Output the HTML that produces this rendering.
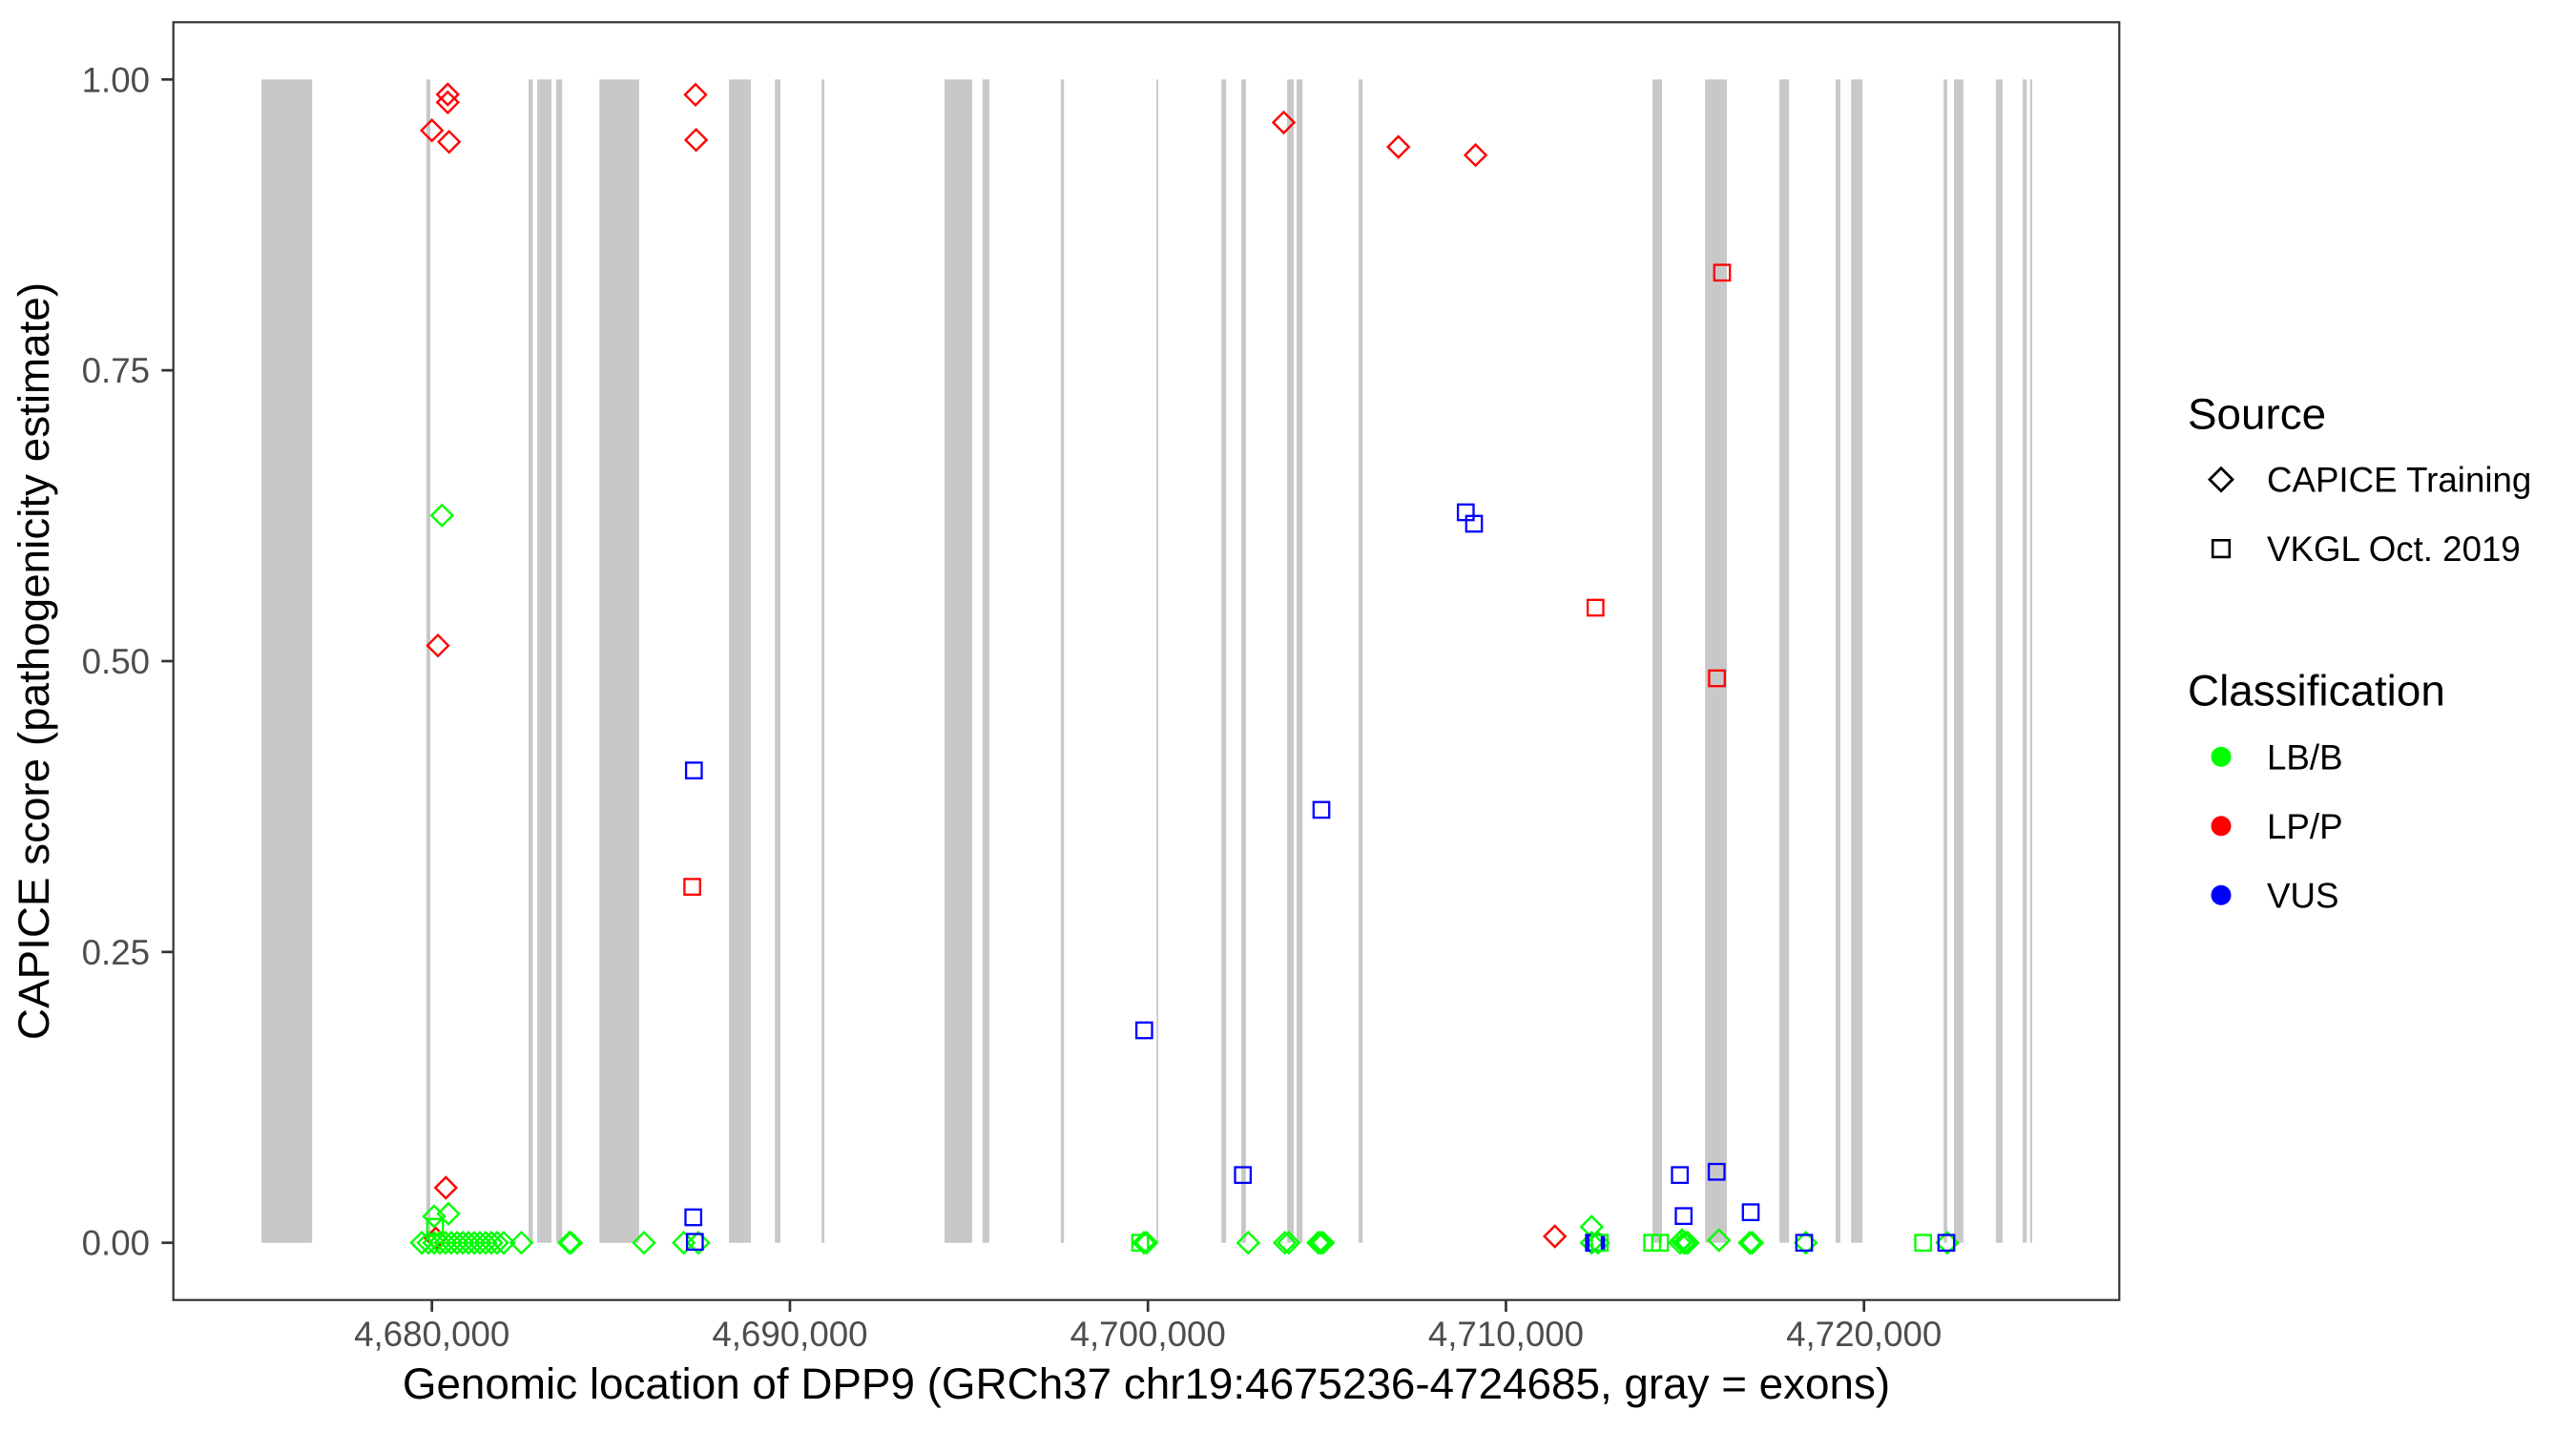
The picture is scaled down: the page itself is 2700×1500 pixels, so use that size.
<!DOCTYPE html>
<html><head><meta charset="utf-8"><style>
html,body{margin:0;padding:0;background:#fff;}
svg{display:block;}
text{font-family:"Liberation Sans",Arial,sans-serif;}
</style></head><body>
<svg width="2700" height="1500" viewBox="0 0 2700 1500" xmlns="http://www.w3.org/2000/svg">
<rect x="0" y="0" width="2700" height="1500" fill="#fff"/>
<defs>
<path id="dm" d="M0,-11 L11,0 L0,11 L-11,0 Z" fill="none" stroke-width="2.4"/>
<rect id="sq" x="-8.2" y="-8.2" width="16.4" height="16.4" fill="none" stroke-width="2.3"/>
</defs>
<g fill="#c8c8c8">
<rect x="274.1" y="83.3" width="53.1" height="1219.4"/>
<rect x="447.0" y="83.3" width="4.1" height="1219.4"/>
<rect x="554.0" y="83.3" width="4.5" height="1219.4"/>
<rect x="563.1" y="83.3" width="14.9" height="1219.4"/>
<rect x="583.0" y="83.3" width="6.2" height="1219.4"/>
<rect x="628.2" y="83.3" width="41.8" height="1219.4"/>
<rect x="764.1" y="83.3" width="22.9" height="1219.4"/>
<rect x="812.2" y="83.3" width="5.8" height="1219.4"/>
<rect x="861.2" y="83.3" width="2.9" height="1219.4"/>
<rect x="990.0" y="83.3" width="29.0" height="1219.4"/>
<rect x="1029.8" y="83.3" width="7.1" height="1219.4"/>
<rect x="1111.9" y="83.3" width="3.3" height="1219.4"/>
<rect x="1212.2" y="83.3" width="1.8" height="1219.4"/>
<rect x="1280.2" y="83.3" width="5.0" height="1219.4"/>
<rect x="1301.0" y="83.3" width="4.9" height="1219.4"/>
<rect x="1349.1" y="83.3" width="7.0" height="1219.4"/>
<rect x="1359.0" y="83.3" width="6.2" height="1219.4"/>
<rect x="1424.1" y="83.3" width="4.2" height="1219.4"/>
<rect x="1732.1" y="83.3" width="9.9" height="1219.4"/>
<rect x="1787.2" y="83.3" width="22.8" height="1219.4"/>
<rect x="1865.1" y="83.3" width="10.0" height="1219.4"/>
<rect x="1924.0" y="83.3" width="5.0" height="1219.4"/>
<rect x="1940.2" y="83.3" width="12.0" height="1219.4"/>
<rect x="2037.2" y="83.3" width="3.7" height="1219.4"/>
<rect x="2048.0" y="83.3" width="9.9" height="1219.4"/>
<rect x="2091.9" y="83.3" width="7.1" height="1219.4"/>
<rect x="2120.1" y="83.3" width="4.2" height="1219.4"/>
<rect x="2128.0" y="83.3" width="2.1" height="1219.4"/>
</g>
<g stroke="#ff0000">
<use href="#dm" x="469.3" y="99"/>
<use href="#dm" x="469.3" y="107.3"/>
<use href="#dm" x="452.7" y="136.7"/>
<use href="#dm" x="470.7" y="148.7"/>
<use href="#dm" x="459" y="676.7"/>
<use href="#dm" x="467.3" y="1245"/>
<use href="#dm" x="456.7" y="1298"/>
<use href="#dm" x="729" y="99.3"/>
<use href="#dm" x="729.6" y="146.7"/>
<use href="#dm" x="1345.5" y="128.4"/>
<use href="#dm" x="1465.7" y="154"/>
<use href="#dm" x="1546.6" y="162.6"/>
<use href="#dm" x="1629.7" y="1296"/>
</g>
<g stroke="#00ff00">
<use href="#dm" x="463.3" y="540.3"/>
<use href="#dm" x="455" y="1275"/>
<use href="#dm" x="470" y="1272.3"/>
<use href="#dm" x="442" y="1302.7"/>
<use href="#dm" x="449" y="1302.7"/>
<use href="#dm" x="455" y="1302.7"/>
<use href="#dm" x="461" y="1302.7"/>
<use href="#dm" x="467" y="1302.7"/>
<use href="#dm" x="473" y="1302.7"/>
<use href="#dm" x="479" y="1302.7"/>
<use href="#dm" x="485" y="1302.7"/>
<use href="#dm" x="491" y="1302.7"/>
<use href="#dm" x="497" y="1302.7"/>
<use href="#dm" x="503" y="1302.7"/>
<use href="#dm" x="509" y="1302.7"/>
<use href="#dm" x="515" y="1302.7"/>
<use href="#dm" x="521" y="1302.7"/>
<use href="#dm" x="528" y="1302.7"/>
<use href="#dm" x="546.5" y="1302.7"/>
<use href="#dm" x="596.7" y="1302.7"/>
<use href="#dm" x="598.5" y="1302.7"/>
<use href="#dm" x="675" y="1302.7"/>
<use href="#dm" x="716.7" y="1302.7"/>
<use href="#dm" x="732" y="1302.7"/>
<use href="#dm" x="1199" y="1302.7"/>
<use href="#dm" x="1201.7" y="1302.7"/>
<use href="#dm" x="1308.3" y="1302.7"/>
<use href="#dm" x="1346.7" y="1302.7"/>
<use href="#dm" x="1350.7" y="1302.7"/>
<use href="#dm" x="1381.7" y="1302.7"/>
<use href="#dm" x="1384" y="1302.7"/>
<use href="#dm" x="1386.7" y="1302.7"/>
<use href="#dm" x="1668.3" y="1286"/>
<use href="#dm" x="1668.3" y="1302.7"/>
<use href="#dm" x="1675" y="1302.7"/>
<use href="#dm" x="1761" y="1302.7"/>
<use href="#dm" x="1763" y="1300"/>
<use href="#dm" x="1765" y="1302.7"/>
<use href="#dm" x="1767" y="1302.7"/>
<use href="#dm" x="1769" y="1302.7"/>
<use href="#dm" x="1801.7" y="1300"/>
<use href="#dm" x="1834" y="1302.7"/>
<use href="#dm" x="1836.5" y="1302.7"/>
<use href="#dm" x="1892.7" y="1302.7"/>
<use href="#dm" x="2041" y="1302.7"/>
</g>
<g stroke="#0000ff">
<use href="#sq" x="727.3" y="807.6"/>
<use href="#sq" x="726.7" y="1276"/>
<use href="#sq" x="728.3" y="1301.7"/>
<use href="#sq" x="1199.3" y="1080"/>
<use href="#sq" x="1302.7" y="1231.7"/>
<use href="#sq" x="1385" y="848.9"/>
<use href="#sq" x="1536.3" y="537"/>
<use href="#sq" x="1545" y="549"/>
<use href="#sq" x="1670.7" y="1302.7"/>
<use href="#sq" x="1673" y="1302.7"/>
<use href="#sq" x="1760.7" y="1231.7"/>
<use href="#sq" x="1764.7" y="1274.7"/>
<use href="#sq" x="1799.3" y="1228.3"/>
<use href="#sq" x="1835" y="1270.7"/>
<use href="#sq" x="1891" y="1302.7"/>
<use href="#sq" x="2040" y="1302.7"/>
</g>
<g stroke="#ff0000">
<use href="#sq" x="725.6" y="929.6"/>
<use href="#sq" x="1672.3" y="637"/>
<use href="#sq" x="1805" y="285.8"/>
<use href="#sq" x="1799.6" y="711"/>
</g>
<g stroke="#00ff00">
<use href="#sq" x="456" y="1286"/>
<use href="#sq" x="1195" y="1302.7"/>
<use href="#sq" x="1676.7" y="1302.7"/>
<use href="#sq" x="1731.7" y="1302.7"/>
<use href="#sq" x="1740" y="1302.7"/>
<use href="#sq" x="2015.7" y="1302.7"/>
</g>
<rect x="181.7" y="23.3" width="2039.6" height="1339.4" fill="none" stroke="#333333" stroke-width="2.2"/>
<g stroke="#333333" stroke-width="2.7">
<line x1="169.3" y1="83.3" x2="181.7" y2="83.3"/>
<line x1="169.3" y1="388.15" x2="181.7" y2="388.15"/>
<line x1="169.3" y1="693" x2="181.7" y2="693"/>
<line x1="169.3" y1="997.85" x2="181.7" y2="997.85"/>
<line x1="169.3" y1="1302.7" x2="181.7" y2="1302.7"/>
<line x1="452.7" y1="1362.7" x2="452.7" y2="1375"/>
<line x1="827.95" y1="1362.7" x2="827.95" y2="1375"/>
<line x1="1203.2" y1="1362.7" x2="1203.2" y2="1375"/>
<line x1="1578.45" y1="1362.7" x2="1578.45" y2="1375"/>
<line x1="1953.7" y1="1362.7" x2="1953.7" y2="1375"/>
</g>
<g fill="#4d4d4d" font-size="36.7" text-anchor="end">
<text x="157" y="96.3">1.00</text>
<text x="157" y="401.2">0.75</text>
<text x="157" y="706">0.50</text>
<text x="157" y="1010.9">0.25</text>
<text x="157" y="1315.7">0.00</text>
</g>
<g fill="#4d4d4d" font-size="36.7" text-anchor="middle">
<text x="452.7" y="1411">4,680,000</text>
<text x="827.95" y="1411">4,690,000</text>
<text x="1203.2" y="1411">4,700,000</text>
<text x="1578.45" y="1411">4,710,000</text>
<text x="1953.7" y="1411">4,720,000</text>
</g>
<text x="1201.5" y="1466" font-size="45.8" text-anchor="middle" fill="#000">Genomic location of DPP9 (GRCh37 chr19:4675236-4724685, gray = exons)</text>
<text transform="translate(51,693) rotate(-90)" font-size="45.8" text-anchor="middle" fill="#000">CAPICE score (pathogenicity estimate)</text>
<text x="2293" y="449.5" font-size="45.8" fill="#000">Source</text>
<path d="M2328,490.6 L2340,502.6 L2328,514.6 L2316,502.6 Z" fill="none" stroke="#000" stroke-width="2.8"/>
<text x="2376" y="515.7" font-size="36.7" fill="#000">CAPICE Training</text>
<rect x="2319.2" y="566.3" width="17.6" height="17.6" fill="none" stroke="#000" stroke-width="2.6"/>
<text x="2376" y="587.8" font-size="36.7" fill="#000">VKGL Oct. 2019</text>
<text x="2293" y="739.4" font-size="45.8" fill="#000">Classification</text>
<circle cx="2328" cy="793.3" r="10.5" fill="#00ff00"/>
<text x="2376" y="806.4" font-size="36.7" fill="#000">LB/B</text>
<circle cx="2328" cy="865.8" r="10.5" fill="#ff0000"/>
<text x="2376" y="878.9" font-size="36.7" fill="#000">LP/P</text>
<circle cx="2328" cy="938.3" r="10.5" fill="#0000ff"/>
<text x="2376" y="951.4" font-size="36.7" fill="#000">VUS</text>
</svg>
</body></html>
